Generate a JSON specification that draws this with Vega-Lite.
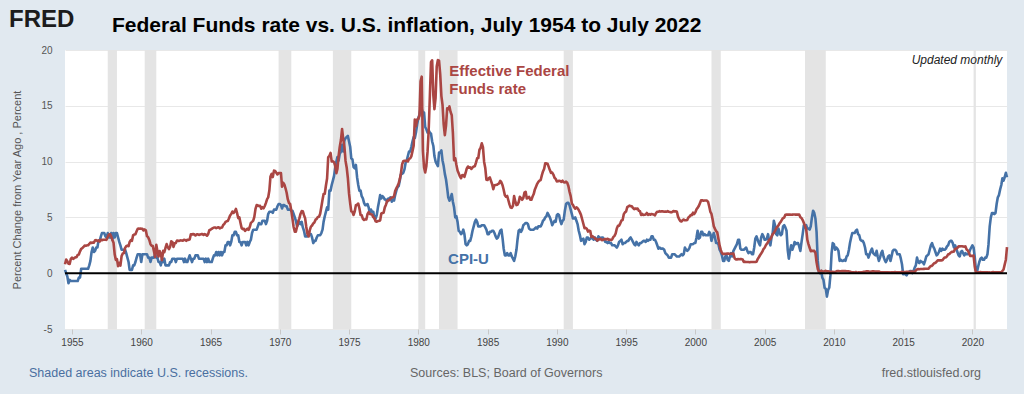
{
"$schema":"https://vega.github.io/schema/vega-lite/v6.json",
"width":942,"height":279,
"autosize":{"type":"none"},
"padding":{"left":65,"top":50,"right":17,"bottom":65},
"background":"#e1e9f0",
"config":{"view":{"fill":"#ffffff","stroke":null},"font":"Liberation Sans"},
"data":{"values":[{}]},
"datasets":{
"rec":[{"s":"1957-08","e":"1958-04"},{"s":"1960-04","e":"1961-02"},{"s":"1969-12","e":"1970-11"},{"s":"1973-11","e":"1975-03"},{"s":"1980-01","e":"1980-07"},{"s":"1981-07","e":"1982-11"},{"s":"1990-07","e":"1991-03"},{"s":"2001-03","e":"2001-11"},{"s":"2007-12","e":"2009-06"},{"s":"2020-02","e":"2020-04"}],
"m":[
{"d":"1954-07","f":0.80,"c":0.3},{"d":"1954-08","f":1.22,"c":0.0},{"d":"1954-09","f":1.07,"c":-0.3},{"d":"1954-10","f":0.85,"c":-0.9},{"d":"1954-11","f":0.83,"c":-0.6},{"d":"1954-12","f":1.28,"c":-0.7},
{"d":"1955-01","f":1.39,"c":-0.7},{"d":"1955-02","f":1.29,"c":-0.7},{"d":"1955-03","f":1.35,"c":-0.7},{"d":"1955-04","f":1.43,"c":-0.7},{"d":"1955-05","f":1.43,"c":-0.7},{"d":"1955-06","f":1.64,"c":-0.7},{"d":"1955-07","f":1.68,"c":-0.4},{"d":"1955-08","f":1.96,"c":-0.4},{"d":"1955-09","f":2.18,"c":0.4},{"d":"1955-10","f":2.24,"c":0.4},{"d":"1955-11","f":2.35,"c":0.4},{"d":"1955-12","f":2.48,"c":0.4},
{"d":"1956-01","f":2.45,"c":0.4},{"d":"1956-02","f":2.50,"c":0.4},{"d":"1956-03","f":2.50,"c":0.4},{"d":"1956-04","f":2.62,"c":0.7},{"d":"1956-05","f":2.75,"c":1.1},{"d":"1956-06","f":2.71,"c":1.9},{"d":"1956-07","f":2.75,"c":2.3},{"d":"1956-08","f":2.73,"c":1.9},{"d":"1956-09","f":2.95,"c":2.0},{"d":"1956-10","f":2.96,"c":2.3},{"d":"1956-11","f":2.88,"c":2.3},{"d":"1956-12","f":2.94,"c":2.9},
{"d":"1957-01","f":2.84,"c":2.9},{"d":"1957-02","f":3.00,"c":3.3},{"d":"1957-03","f":2.96,"c":3.6},{"d":"1957-04","f":3.00,"c":3.6},{"d":"1957-05","f":3.00,"c":3.6},{"d":"1957-06","f":3.00,"c":3.3},{"d":"1957-07","f":2.99,"c":3.2},{"d":"1957-08","f":3.24,"c":3.6},{"d":"1957-09","f":3.47,"c":3.2},{"d":"1957-10","f":3.50,"c":3.2},{"d":"1957-11","f":3.28,"c":3.6},{"d":"1957-12","f":2.98,"c":3.0},
{"d":"1958-01","f":2.72,"c":3.6},{"d":"1958-02","f":1.67,"c":3.2},{"d":"1958-03","f":1.20,"c":3.6},{"d":"1958-04","f":1.26,"c":3.6},{"d":"1958-05","f":0.63,"c":3.2},{"d":"1958-06","f":0.93,"c":2.8},{"d":"1958-07","f":0.68,"c":2.5},{"d":"1958-08","f":1.53,"c":2.1},{"d":"1958-09","f":1.76,"c":2.1},{"d":"1958-10","f":1.80,"c":2.1},{"d":"1958-11","f":2.27,"c":2.1},{"d":"1958-12","f":2.42,"c":1.8},
{"d":"1959-01","f":2.48,"c":1.4},{"d":"1959-02","f":2.43,"c":1.0},{"d":"1959-03","f":2.80,"c":0.3},{"d":"1959-04","f":2.96,"c":0.3},{"d":"1959-05","f":2.90,"c":0.3},{"d":"1959-06","f":3.39,"c":0.7},{"d":"1959-07","f":3.47,"c":0.7},{"d":"1959-08","f":3.50,"c":1.0},{"d":"1959-09","f":3.76,"c":1.4},{"d":"1959-10","f":3.98,"c":1.7},{"d":"1959-11","f":4.00,"c":1.7},{"d":"1959-12","f":3.99,"c":1.7},
{"d":"1960-01","f":3.99,"c":1.0},{"d":"1960-02","f":3.97,"c":1.7},{"d":"1960-03","f":3.84,"c":1.7},{"d":"1960-04","f":3.92,"c":1.7},{"d":"1960-05","f":3.85,"c":1.7},{"d":"1960-06","f":3.32,"c":1.7},{"d":"1960-07","f":3.23,"c":1.4},{"d":"1960-08","f":2.98,"c":1.4},{"d":"1960-09","f":2.60,"c":1.0},{"d":"1960-10","f":2.47,"c":1.4},{"d":"1960-11","f":2.44,"c":1.4},{"d":"1960-12","f":1.98,"c":1.4},
{"d":"1961-01","f":1.45,"c":1.7},{"d":"1961-02","f":2.54,"c":1.4},{"d":"1961-03","f":2.02,"c":1.4},{"d":"1961-04","f":1.49,"c":1.0},{"d":"1961-05","f":1.98,"c":1.0},{"d":"1961-06","f":1.73,"c":0.7},{"d":"1961-07","f":1.17,"c":1.3},{"d":"1961-08","f":2.00,"c":1.0},{"d":"1961-09","f":1.88,"c":1.3},{"d":"1961-10","f":2.26,"c":0.7},{"d":"1961-11","f":2.61,"c":0.7},{"d":"1961-12","f":2.33,"c":0.7},
{"d":"1962-01","f":2.15,"c":0.7},{"d":"1962-02","f":2.37,"c":1.0},{"d":"1962-03","f":2.85,"c":1.0},{"d":"1962-04","f":2.78,"c":1.3},{"d":"1962-05","f":2.36,"c":1.3},{"d":"1962-06","f":2.68,"c":1.3},{"d":"1962-07","f":2.71,"c":1.0},{"d":"1962-08","f":2.93,"c":1.3},{"d":"1962-09","f":2.90,"c":1.3},{"d":"1962-10","f":2.90,"c":1.3},{"d":"1962-11","f":2.94,"c":1.3},{"d":"1962-12","f":2.93,"c":1.3},
{"d":"1963-01","f":2.92,"c":1.3},{"d":"1963-02","f":3.00,"c":1.0},{"d":"1963-03","f":2.98,"c":1.3},{"d":"1963-04","f":2.90,"c":1.0},{"d":"1963-05","f":3.00,"c":1.0},{"d":"1963-06","f":2.99,"c":1.3},{"d":"1963-07","f":3.02,"c":1.6},{"d":"1963-08","f":3.49,"c":1.3},{"d":"1963-09","f":3.48,"c":1.0},{"d":"1963-10","f":3.50,"c":1.3},{"d":"1963-11","f":3.48,"c":1.3},{"d":"1963-12","f":3.38,"c":1.6},
{"d":"1964-01","f":3.48,"c":1.6},{"d":"1964-02","f":3.48,"c":1.6},{"d":"1964-03","f":3.43,"c":1.3},{"d":"1964-04","f":3.47,"c":1.3},{"d":"1964-05","f":3.50,"c":1.3},{"d":"1964-06","f":3.50,"c":1.3},{"d":"1964-07","f":3.42,"c":1.3},{"d":"1964-08","f":3.50,"c":1.0},{"d":"1964-09","f":3.45,"c":1.3},{"d":"1964-10","f":3.36,"c":1.0},{"d":"1964-11","f":3.52,"c":1.3},{"d":"1964-12","f":3.85,"c":1.0},
{"d":"1965-01","f":3.90,"c":1.0},{"d":"1965-02","f":3.98,"c":1.0},{"d":"1965-03","f":4.04,"c":1.3},{"d":"1965-04","f":4.09,"c":1.6},{"d":"1965-05","f":4.10,"c":1.6},{"d":"1965-06","f":4.04,"c":1.9},{"d":"1965-07","f":4.09,"c":1.6},{"d":"1965-08","f":4.12,"c":1.9},{"d":"1965-09","f":4.01,"c":1.6},{"d":"1965-10","f":4.08,"c":1.9},{"d":"1965-11","f":4.10,"c":1.6},{"d":"1965-12","f":4.32,"c":1.9},
{"d":"1966-01","f":4.42,"c":1.9},{"d":"1966-02","f":4.60,"c":2.5},{"d":"1966-03","f":4.65,"c":2.5},{"d":"1966-04","f":4.67,"c":2.8},{"d":"1966-05","f":4.90,"c":2.8},{"d":"1966-06","f":5.17,"c":2.5},{"d":"1966-07","f":5.30,"c":2.8},{"d":"1966-08","f":5.53,"c":3.4},{"d":"1966-09","f":5.40,"c":3.4},{"d":"1966-10","f":5.53,"c":3.7},{"d":"1966-11","f":5.76,"c":3.7},{"d":"1966-12","f":5.40,"c":3.4},
{"d":"1967-01","f":4.94,"c":3.4},{"d":"1967-02","f":5.00,"c":2.8},{"d":"1967-03","f":4.53,"c":2.8},{"d":"1967-04","f":4.05,"c":2.5},{"d":"1967-05","f":3.94,"c":2.8},{"d":"1967-06","f":3.98,"c":2.8},{"d":"1967-07","f":3.79,"c":2.8},{"d":"1967-08","f":3.90,"c":2.5},{"d":"1967-09","f":3.99,"c":2.8},{"d":"1967-10","f":3.88,"c":2.5},{"d":"1967-11","f":4.13,"c":2.8},{"d":"1967-12","f":4.51,"c":3.0},
{"d":"1968-01","f":4.60,"c":3.6},{"d":"1968-02","f":4.71,"c":3.9},{"d":"1968-03","f":5.05,"c":3.9},{"d":"1968-04","f":5.76,"c":3.9},{"d":"1968-05","f":6.11,"c":3.9},{"d":"1968-06","f":6.07,"c":4.2},{"d":"1968-07","f":6.02,"c":4.5},{"d":"1968-08","f":6.03,"c":4.4},{"d":"1968-09","f":5.78,"c":4.4},{"d":"1968-10","f":5.91,"c":4.7},{"d":"1968-11","f":5.82,"c":4.7},{"d":"1968-12","f":6.02,"c":4.7},
{"d":"1969-01","f":6.30,"c":4.4},{"d":"1969-02","f":6.64,"c":4.7},{"d":"1969-03","f":6.79,"c":5.3},{"d":"1969-04","f":7.41,"c":5.5},{"d":"1969-05","f":8.67,"c":5.5},{"d":"1969-06","f":8.90,"c":5.5},{"d":"1969-07","f":8.61,"c":5.4},{"d":"1969-08","f":9.19,"c":5.7},{"d":"1969-09","f":9.15,"c":5.7},{"d":"1969-10","f":9.00,"c":5.7},{"d":"1969-11","f":8.85,"c":6.0},{"d":"1969-12","f":8.97,"c":6.2},
{"d":"1970-01","f":8.98,"c":6.2},{"d":"1970-02","f":8.98,"c":6.1},{"d":"1970-03","f":7.76,"c":5.8},{"d":"1970-04","f":8.10,"c":6.1},{"d":"1970-05","f":7.95,"c":6.1},{"d":"1970-06","f":7.61,"c":6.0},{"d":"1970-07","f":7.21,"c":6.0},{"d":"1970-08","f":6.61,"c":5.7},{"d":"1970-09","f":6.29,"c":5.7},{"d":"1970-10","f":6.20,"c":5.7},{"d":"1970-11","f":5.60,"c":5.6},{"d":"1970-12","f":4.90,"c":5.6},
{"d":"1971-01","f":4.14,"c":5.3},{"d":"1971-02","f":3.72,"c":5.0},{"d":"1971-03","f":3.71,"c":4.7},{"d":"1971-04","f":4.16,"c":4.2},{"d":"1971-05","f":4.63,"c":4.4},{"d":"1971-06","f":4.91,"c":4.6},{"d":"1971-07","f":5.31,"c":4.4},{"d":"1971-08","f":5.56,"c":4.6},{"d":"1971-09","f":5.55,"c":4.1},{"d":"1971-10","f":5.20,"c":3.8},{"d":"1971-11","f":4.91,"c":3.3},{"d":"1971-12","f":4.14,"c":3.3},
{"d":"1972-01","f":3.50,"c":3.3},{"d":"1972-02","f":3.29,"c":3.5},{"d":"1972-03","f":3.83,"c":3.5},{"d":"1972-04","f":4.17,"c":3.5},{"d":"1972-05","f":4.27,"c":3.2},{"d":"1972-06","f":4.46,"c":2.7},{"d":"1972-07","f":4.55,"c":2.9},{"d":"1972-08","f":4.80,"c":2.9},{"d":"1972-09","f":4.87,"c":3.2},{"d":"1972-10","f":5.04,"c":3.4},{"d":"1972-11","f":5.06,"c":3.4},{"d":"1972-12","f":5.33,"c":3.4},
{"d":"1973-01","f":5.94,"c":3.6},{"d":"1973-02","f":6.58,"c":3.9},{"d":"1973-03","f":7.09,"c":4.6},{"d":"1973-04","f":7.12,"c":5.1},{"d":"1973-05","f":7.84,"c":5.5},{"d":"1973-06","f":8.49,"c":5.9},{"d":"1973-07","f":10.40,"c":5.7},{"d":"1973-08","f":10.50,"c":7.4},{"d":"1973-09","f":10.78,"c":7.4},{"d":"1973-10","f":10.01,"c":7.9},{"d":"1973-11","f":10.03,"c":8.3},{"d":"1973-12","f":9.95,"c":8.7},
{"d":"1974-01","f":9.65,"c":9.4},{"d":"1974-02","f":8.97,"c":10.0},{"d":"1974-03","f":9.35,"c":10.4},{"d":"1974-04","f":10.51,"c":10.1},{"d":"1974-05","f":11.31,"c":10.7},{"d":"1974-06","f":11.93,"c":10.9},{"d":"1974-07","f":12.92,"c":11.5},{"d":"1974-08","f":12.01,"c":10.9},{"d":"1974-09","f":11.34,"c":11.9},{"d":"1974-10","f":10.06,"c":12.1},{"d":"1974-11","f":9.45,"c":12.2},{"d":"1974-12","f":8.53,"c":12.3},
{"d":"1975-01","f":7.13,"c":11.8},{"d":"1975-02","f":6.24,"c":11.3},{"d":"1975-03","f":5.54,"c":10.3},{"d":"1975-04","f":5.49,"c":10.2},{"d":"1975-05","f":5.22,"c":9.5},{"d":"1975-06","f":5.55,"c":9.4},{"d":"1975-07","f":6.10,"c":9.7},{"d":"1975-08","f":6.14,"c":8.6},{"d":"1975-09","f":6.24,"c":7.9},{"d":"1975-10","f":5.82,"c":7.4},{"d":"1975-11","f":5.22,"c":7.4},{"d":"1975-12","f":5.20,"c":6.9},
{"d":"1976-01","f":4.87,"c":6.7},{"d":"1976-02","f":4.77,"c":6.3},{"d":"1976-03","f":4.84,"c":6.1},{"d":"1976-04","f":4.82,"c":6.1},{"d":"1976-05","f":5.29,"c":6.2},{"d":"1976-06","f":5.48,"c":5.9},{"d":"1976-07","f":5.31,"c":5.4},{"d":"1976-08","f":5.29,"c":5.7},{"d":"1976-09","f":5.25,"c":5.5},{"d":"1976-10","f":5.02,"c":5.5},{"d":"1976-11","f":4.95,"c":4.9},{"d":"1976-12","f":4.65,"c":4.9},
{"d":"1977-01","f":4.61,"c":5.2},{"d":"1977-02","f":4.68,"c":5.9},{"d":"1977-03","f":4.69,"c":6.4},{"d":"1977-04","f":4.73,"c":7.0},{"d":"1977-05","f":5.35,"c":6.7},{"d":"1977-06","f":5.39,"c":6.9},{"d":"1977-07","f":5.42,"c":6.8},{"d":"1977-08","f":5.90,"c":6.6},{"d":"1977-09","f":6.14,"c":6.6},{"d":"1977-10","f":6.47,"c":6.4},{"d":"1977-11","f":6.51,"c":6.7},{"d":"1977-12","f":6.56,"c":6.7},
{"d":"1978-01","f":6.70,"c":6.8},{"d":"1978-02","f":6.78,"c":6.4},{"d":"1978-03","f":6.79,"c":6.6},{"d":"1978-04","f":6.89,"c":6.5},{"d":"1978-05","f":7.36,"c":7.0},{"d":"1978-06","f":7.60,"c":7.4},{"d":"1978-07","f":7.81,"c":7.7},{"d":"1978-08","f":8.04,"c":7.8},{"d":"1978-09","f":8.45,"c":8.3},{"d":"1978-10","f":8.96,"c":8.9},{"d":"1978-11","f":9.76,"c":8.9},{"d":"1978-12","f":10.03,"c":9.0},
{"d":"1979-01","f":10.07,"c":9.3},{"d":"1979-02","f":10.06,"c":9.9},{"d":"1979-03","f":10.09,"c":10.1},{"d":"1979-04","f":10.01,"c":10.5},{"d":"1979-05","f":10.24,"c":10.9},{"d":"1979-06","f":10.29,"c":10.9},{"d":"1979-07","f":10.47,"c":11.3},{"d":"1979-08","f":10.94,"c":11.8},{"d":"1979-09","f":11.43,"c":12.2},{"d":"1979-10","f":13.77,"c":12.1},{"d":"1979-11","f":13.18,"c":12.6},{"d":"1979-12","f":13.78,"c":13.3},
{"d":"1980-01","f":13.82,"c":13.9},{"d":"1980-02","f":14.13,"c":14.2},{"d":"1980-03","f":17.19,"c":14.8},{"d":"1980-04","f":17.61,"c":14.7},{"d":"1980-05","f":10.98,"c":14.4},{"d":"1980-06","f":9.47,"c":14.4},{"d":"1980-07","f":9.03,"c":13.1},{"d":"1980-08","f":9.61,"c":12.9},{"d":"1980-09","f":10.87,"c":12.6},{"d":"1980-10","f":12.81,"c":12.8},{"d":"1980-11","f":15.85,"c":12.6},{"d":"1980-12","f":18.90,"c":12.5},
{"d":"1981-01","f":19.08,"c":11.8},{"d":"1981-02","f":15.93,"c":11.4},{"d":"1981-03","f":14.70,"c":10.5},{"d":"1981-04","f":15.72,"c":10.0},{"d":"1981-05","f":18.52,"c":9.8},{"d":"1981-06","f":19.10,"c":9.6},{"d":"1981-07","f":19.04,"c":10.8},{"d":"1981-08","f":17.82,"c":10.8},{"d":"1981-09","f":15.87,"c":11.0},{"d":"1981-10","f":15.08,"c":10.1},{"d":"1981-11","f":13.31,"c":9.6},{"d":"1981-12","f":12.37,"c":8.9},
{"d":"1982-01","f":13.22,"c":8.4},{"d":"1982-02","f":14.78,"c":7.6},{"d":"1982-03","f":14.68,"c":6.8},{"d":"1982-04","f":14.94,"c":6.5},{"d":"1982-05","f":14.45,"c":6.7},{"d":"1982-06","f":14.15,"c":7.1},{"d":"1982-07","f":12.59,"c":6.4},{"d":"1982-08","f":10.12,"c":5.9},{"d":"1982-09","f":10.31,"c":5.0},{"d":"1982-10","f":9.71,"c":5.1},{"d":"1982-11","f":9.20,"c":4.6},{"d":"1982-12","f":8.95,"c":3.8},
{"d":"1983-01","f":8.68,"c":3.7},{"d":"1983-02","f":8.51,"c":3.5},{"d":"1983-03","f":8.77,"c":3.6},{"d":"1983-04","f":8.80,"c":3.9},{"d":"1983-05","f":8.63,"c":3.5},{"d":"1983-06","f":8.98,"c":2.6},{"d":"1983-07","f":9.37,"c":2.5},{"d":"1983-08","f":9.56,"c":2.6},{"d":"1983-09","f":9.45,"c":2.9},{"d":"1983-10","f":9.48,"c":2.9},{"d":"1983-11","f":9.34,"c":3.3},{"d":"1983-12","f":9.47,"c":3.8},
{"d":"1984-01","f":9.56,"c":4.2},{"d":"1984-02","f":9.59,"c":4.6},{"d":"1984-03","f":9.91,"c":4.8},{"d":"1984-04","f":10.29,"c":4.6},{"d":"1984-05","f":10.32,"c":4.2},{"d":"1984-06","f":11.06,"c":4.2},{"d":"1984-07","f":11.23,"c":4.2},{"d":"1984-08","f":11.64,"c":4.3},{"d":"1984-09","f":11.30,"c":4.3},{"d":"1984-10","f":9.99,"c":4.3},{"d":"1984-11","f":9.43,"c":4.1},{"d":"1984-12","f":8.38,"c":3.9},
{"d":"1985-01","f":8.35,"c":3.5},{"d":"1985-02","f":8.50,"c":3.5},{"d":"1985-03","f":8.58,"c":3.7},{"d":"1985-04","f":8.27,"c":3.7},{"d":"1985-05","f":7.97,"c":3.8},{"d":"1985-06","f":7.53,"c":3.8},{"d":"1985-07","f":7.88,"c":3.6},{"d":"1985-08","f":7.90,"c":3.3},{"d":"1985-09","f":7.92,"c":3.1},{"d":"1985-10","f":7.99,"c":3.2},{"d":"1985-11","f":8.05,"c":3.5},{"d":"1985-12","f":8.27,"c":3.8},
{"d":"1986-01","f":8.14,"c":3.9},{"d":"1986-02","f":7.86,"c":3.1},{"d":"1986-03","f":7.48,"c":2.2},{"d":"1986-04","f":6.99,"c":1.6},{"d":"1986-05","f":6.85,"c":1.6},{"d":"1986-06","f":6.92,"c":1.8},{"d":"1986-07","f":6.56,"c":1.6},{"d":"1986-08","f":6.17,"c":1.6},{"d":"1986-09","f":5.89,"c":1.8},{"d":"1986-10","f":5.85,"c":1.5},{"d":"1986-11","f":6.04,"c":1.3},{"d":"1986-12","f":6.91,"c":1.1},
{"d":"1987-01","f":6.43,"c":1.5},{"d":"1987-02","f":6.10,"c":2.1},{"d":"1987-03","f":6.13,"c":3.0},{"d":"1987-04","f":6.37,"c":3.8},{"d":"1987-05","f":6.85,"c":3.9},{"d":"1987-06","f":6.73,"c":3.7},{"d":"1987-07","f":6.58,"c":3.9},{"d":"1987-08","f":6.73,"c":4.3},{"d":"1987-09","f":7.22,"c":4.4},{"d":"1987-10","f":7.29,"c":4.5},{"d":"1987-11","f":6.69,"c":4.5},{"d":"1987-12","f":6.77,"c":4.4},
{"d":"1988-01","f":6.83,"c":4.0},{"d":"1988-02","f":6.58,"c":3.9},{"d":"1988-03","f":6.58,"c":3.9},{"d":"1988-04","f":6.87,"c":3.9},{"d":"1988-05","f":7.09,"c":3.9},{"d":"1988-06","f":7.51,"c":4.0},{"d":"1988-07","f":7.75,"c":4.1},{"d":"1988-08","f":8.01,"c":4.0},{"d":"1988-09","f":8.19,"c":4.2},{"d":"1988-10","f":8.30,"c":4.2},{"d":"1988-11","f":8.35,"c":4.2},{"d":"1988-12","f":8.76,"c":4.4},
{"d":"1989-01","f":9.12,"c":4.7},{"d":"1989-02","f":9.36,"c":4.8},{"d":"1989-03","f":9.85,"c":5.0},{"d":"1989-04","f":9.84,"c":5.1},{"d":"1989-05","f":9.81,"c":5.4},{"d":"1989-06","f":9.53,"c":5.2},{"d":"1989-07","f":9.24,"c":5.0},{"d":"1989-08","f":8.99,"c":4.7},{"d":"1989-09","f":9.02,"c":4.3},{"d":"1989-10","f":8.84,"c":4.5},{"d":"1989-11","f":8.55,"c":4.7},{"d":"1989-12","f":8.45,"c":4.6},
{"d":"1990-01","f":8.23,"c":5.2},{"d":"1990-02","f":8.24,"c":5.3},{"d":"1990-03","f":8.28,"c":5.2},{"d":"1990-04","f":8.26,"c":4.7},{"d":"1990-05","f":8.18,"c":4.4},{"d":"1990-06","f":8.29,"c":4.7},{"d":"1990-07","f":8.15,"c":4.8},{"d":"1990-08","f":8.13,"c":5.6},{"d":"1990-09","f":8.20,"c":6.2},{"d":"1990-10","f":8.11,"c":6.3},{"d":"1990-11","f":7.81,"c":6.3},{"d":"1990-12","f":7.31,"c":6.1},
{"d":"1991-01","f":6.91,"c":5.7},{"d":"1991-02","f":6.25,"c":5.3},{"d":"1991-03","f":6.12,"c":4.9},{"d":"1991-04","f":5.91,"c":4.9},{"d":"1991-05","f":5.78,"c":5.0},{"d":"1991-06","f":5.90,"c":4.7},{"d":"1991-07","f":5.82,"c":4.4},{"d":"1991-08","f":5.66,"c":3.8},{"d":"1991-09","f":5.45,"c":3.4},{"d":"1991-10","f":5.21,"c":2.9},{"d":"1991-11","f":4.81,"c":3.0},{"d":"1991-12","f":4.43,"c":3.1},
{"d":"1992-01","f":4.03,"c":2.6},{"d":"1992-02","f":4.06,"c":2.8},{"d":"1992-03","f":3.98,"c":3.2},{"d":"1992-04","f":3.73,"c":3.2},{"d":"1992-05","f":3.82,"c":3.0},{"d":"1992-06","f":3.76,"c":3.1},{"d":"1992-07","f":3.25,"c":3.2},{"d":"1992-08","f":3.30,"c":3.1},{"d":"1992-09","f":3.22,"c":3.0},{"d":"1992-10","f":3.10,"c":3.2},{"d":"1992-11","f":3.09,"c":3.0},{"d":"1992-12","f":2.92,"c":2.9},
{"d":"1993-01","f":3.02,"c":3.3},{"d":"1993-02","f":3.03,"c":3.2},{"d":"1993-03","f":3.07,"c":3.1},{"d":"1993-04","f":2.96,"c":3.2},{"d":"1993-05","f":3.00,"c":3.2},{"d":"1993-06","f":3.04,"c":3.0},{"d":"1993-07","f":3.06,"c":2.8},{"d":"1993-08","f":3.03,"c":2.8},{"d":"1993-09","f":3.09,"c":2.7},{"d":"1993-10","f":2.99,"c":2.8},{"d":"1993-11","f":3.02,"c":2.7},{"d":"1993-12","f":2.96,"c":2.7},
{"d":"1994-01","f":3.05,"c":2.5},{"d":"1994-02","f":3.25,"c":2.5},{"d":"1994-03","f":3.34,"c":2.5},{"d":"1994-04","f":3.56,"c":2.4},{"d":"1994-05","f":4.01,"c":2.3},{"d":"1994-06","f":4.25,"c":2.5},{"d":"1994-07","f":4.26,"c":2.8},{"d":"1994-08","f":4.47,"c":2.9},{"d":"1994-09","f":4.73,"c":3.0},{"d":"1994-10","f":4.76,"c":2.6},{"d":"1994-11","f":5.29,"c":2.7},{"d":"1994-12","f":5.45,"c":2.7},
{"d":"1995-01","f":5.53,"c":2.8},{"d":"1995-02","f":5.92,"c":2.9},{"d":"1995-03","f":5.98,"c":2.9},{"d":"1995-04","f":6.05,"c":3.1},{"d":"1995-05","f":6.01,"c":3.2},{"d":"1995-06","f":6.00,"c":3.0},{"d":"1995-07","f":5.85,"c":2.8},{"d":"1995-08","f":5.74,"c":2.6},{"d":"1995-09","f":5.80,"c":2.5},{"d":"1995-10","f":5.76,"c":2.8},{"d":"1995-11","f":5.80,"c":2.6},{"d":"1995-12","f":5.60,"c":2.5},
{"d":"1996-01","f":5.56,"c":2.7},{"d":"1996-02","f":5.22,"c":2.7},{"d":"1996-03","f":5.31,"c":2.8},{"d":"1996-04","f":5.22,"c":2.9},{"d":"1996-05","f":5.24,"c":2.9},{"d":"1996-06","f":5.27,"c":2.8},{"d":"1996-07","f":5.40,"c":3.0},{"d":"1996-08","f":5.22,"c":2.9},{"d":"1996-09","f":5.30,"c":3.0},{"d":"1996-10","f":5.24,"c":3.0},{"d":"1996-11","f":5.31,"c":3.3},{"d":"1996-12","f":5.29,"c":3.3},
{"d":"1997-01","f":5.25,"c":3.0},{"d":"1997-02","f":5.19,"c":3.0},{"d":"1997-03","f":5.39,"c":2.8},{"d":"1997-04","f":5.51,"c":2.5},{"d":"1997-05","f":5.50,"c":2.2},{"d":"1997-06","f":5.56,"c":2.3},{"d":"1997-07","f":5.52,"c":2.2},{"d":"1997-08","f":5.54,"c":2.2},{"d":"1997-09","f":5.54,"c":2.2},{"d":"1997-10","f":5.50,"c":2.1},{"d":"1997-11","f":5.52,"c":1.8},{"d":"1997-12","f":5.50,"c":1.7},
{"d":"1998-01","f":5.56,"c":1.6},{"d":"1998-02","f":5.51,"c":1.4},{"d":"1998-03","f":5.49,"c":1.4},{"d":"1998-04","f":5.45,"c":1.4},{"d":"1998-05","f":5.49,"c":1.7},{"d":"1998-06","f":5.56,"c":1.7},{"d":"1998-07","f":5.54,"c":1.7},{"d":"1998-08","f":5.55,"c":1.6},{"d":"1998-09","f":5.51,"c":1.5},{"d":"1998-10","f":5.07,"c":1.5},{"d":"1998-11","f":4.83,"c":1.5},{"d":"1998-12","f":4.68,"c":1.6},
{"d":"1999-01","f":4.63,"c":1.7},{"d":"1999-02","f":4.76,"c":1.6},{"d":"1999-03","f":4.81,"c":1.7},{"d":"1999-04","f":4.74,"c":2.3},{"d":"1999-05","f":4.74,"c":2.1},{"d":"1999-06","f":4.76,"c":2.0},{"d":"1999-07","f":4.99,"c":2.1},{"d":"1999-08","f":5.07,"c":2.3},{"d":"1999-09","f":5.22,"c":2.6},{"d":"1999-10","f":5.20,"c":2.6},{"d":"1999-11","f":5.42,"c":2.6},{"d":"1999-12","f":5.30,"c":2.7},
{"d":"2000-01","f":5.45,"c":2.7},{"d":"2000-02","f":5.73,"c":3.2},{"d":"2000-03","f":5.85,"c":3.8},{"d":"2000-04","f":6.02,"c":3.1},{"d":"2000-05","f":6.27,"c":3.2},{"d":"2000-06","f":6.53,"c":3.7},{"d":"2000-07","f":6.54,"c":3.7},{"d":"2000-08","f":6.50,"c":3.4},{"d":"2000-09","f":6.52,"c":3.5},{"d":"2000-10","f":6.51,"c":3.4},{"d":"2000-11","f":6.51,"c":3.4},{"d":"2000-12","f":6.40,"c":3.4},
{"d":"2001-01","f":5.98,"c":3.7},{"d":"2001-02","f":5.49,"c":3.5},{"d":"2001-03","f":5.31,"c":2.9},{"d":"2001-04","f":4.80,"c":3.3},{"d":"2001-05","f":4.21,"c":3.6},{"d":"2001-06","f":3.97,"c":3.2},{"d":"2001-07","f":3.77,"c":2.7},{"d":"2001-08","f":3.65,"c":2.7},{"d":"2001-09","f":3.07,"c":2.6},{"d":"2001-10","f":2.49,"c":2.1},{"d":"2001-11","f":2.09,"c":1.9},{"d":"2001-12","f":1.82,"c":1.6},
{"d":"2002-01","f":1.73,"c":1.1},{"d":"2002-02","f":1.74,"c":1.1},{"d":"2002-03","f":1.73,"c":1.5},{"d":"2002-04","f":1.75,"c":1.6},{"d":"2002-05","f":1.75,"c":1.2},{"d":"2002-06","f":1.75,"c":1.1},{"d":"2002-07","f":1.73,"c":1.5},{"d":"2002-08","f":1.74,"c":1.8},{"d":"2002-09","f":1.75,"c":1.5},{"d":"2002-10","f":1.75,"c":2.0},{"d":"2002-11","f":1.34,"c":2.2},{"d":"2002-12","f":1.24,"c":2.4},
{"d":"2003-01","f":1.24,"c":2.6},{"d":"2003-02","f":1.26,"c":3.0},{"d":"2003-03","f":1.25,"c":3.0},{"d":"2003-04","f":1.26,"c":2.2},{"d":"2003-05","f":1.26,"c":2.1},{"d":"2003-06","f":1.22,"c":2.1},{"d":"2003-07","f":1.01,"c":2.1},{"d":"2003-08","f":1.03,"c":2.2},{"d":"2003-09","f":1.01,"c":2.3},{"d":"2003-10","f":1.01,"c":2.0},{"d":"2003-11","f":1.00,"c":1.8},{"d":"2003-12","f":0.98,"c":1.9},
{"d":"2004-01","f":1.00,"c":1.9},{"d":"2004-02","f":1.01,"c":1.7},{"d":"2004-03","f":1.00,"c":1.7},{"d":"2004-04","f":1.00,"c":2.3},{"d":"2004-05","f":1.00,"c":3.1},{"d":"2004-06","f":1.03,"c":3.3},{"d":"2004-07","f":1.26,"c":3.0},{"d":"2004-08","f":1.43,"c":2.7},{"d":"2004-09","f":1.61,"c":2.5},{"d":"2004-10","f":1.76,"c":3.2},{"d":"2004-11","f":1.93,"c":3.5},{"d":"2004-12","f":2.16,"c":3.3},
{"d":"2005-01","f":2.28,"c":3.0},{"d":"2005-02","f":2.50,"c":3.0},{"d":"2005-03","f":2.63,"c":3.1},{"d":"2005-04","f":2.79,"c":3.5},{"d":"2005-05","f":3.00,"c":2.8},{"d":"2005-06","f":3.04,"c":2.5},{"d":"2005-07","f":3.26,"c":3.2},{"d":"2005-08","f":3.50,"c":3.6},{"d":"2005-09","f":3.62,"c":4.7},{"d":"2005-10","f":3.78,"c":4.3},{"d":"2005-11","f":4.00,"c":3.5},{"d":"2005-12","f":4.16,"c":3.4},
{"d":"2006-01","f":4.29,"c":4.0},{"d":"2006-02","f":4.49,"c":3.6},{"d":"2006-03","f":4.59,"c":3.4},{"d":"2006-04","f":4.79,"c":3.5},{"d":"2006-05","f":4.94,"c":4.2},{"d":"2006-06","f":4.99,"c":4.3},{"d":"2006-07","f":5.24,"c":4.1},{"d":"2006-08","f":5.25,"c":3.8},{"d":"2006-09","f":5.25,"c":2.1},{"d":"2006-10","f":5.25,"c":1.3},{"d":"2006-11","f":5.25,"c":2.0},{"d":"2006-12","f":5.24,"c":2.5},
{"d":"2007-01","f":5.25,"c":2.1},{"d":"2007-02","f":5.26,"c":2.4},{"d":"2007-03","f":5.26,"c":2.8},{"d":"2007-04","f":5.25,"c":2.6},{"d":"2007-05","f":5.25,"c":2.7},{"d":"2007-06","f":5.25,"c":2.7},{"d":"2007-07","f":5.26,"c":2.4},{"d":"2007-08","f":5.02,"c":2.0},{"d":"2007-09","f":4.94,"c":2.8},{"d":"2007-10","f":4.76,"c":3.5},{"d":"2007-11","f":4.49,"c":4.3},{"d":"2007-12","f":4.24,"c":4.1},
{"d":"2008-01","f":3.94,"c":4.3},{"d":"2008-02","f":2.98,"c":4.0},{"d":"2008-03","f":2.61,"c":4.0},{"d":"2008-04","f":2.28,"c":3.9},{"d":"2008-05","f":1.98,"c":4.2},{"d":"2008-06","f":2.00,"c":5.0},{"d":"2008-07","f":2.01,"c":5.6},{"d":"2008-08","f":2.00,"c":5.4},{"d":"2008-09","f":1.81,"c":4.9},{"d":"2008-10","f":0.97,"c":3.7},{"d":"2008-11","f":0.39,"c":1.1},{"d":"2008-12","f":0.16,"c":0.1},
{"d":"2009-01","f":0.15,"c":0.0},{"d":"2009-02","f":0.22,"c":0.2},{"d":"2009-03","f":0.18,"c":-0.4},{"d":"2009-04","f":0.15,"c":-0.6},{"d":"2009-05","f":0.18,"c":-1.3},{"d":"2009-06","f":0.21,"c":-1.4},{"d":"2009-07","f":0.16,"c":-2.1},{"d":"2009-08","f":0.16,"c":-1.5},{"d":"2009-09","f":0.15,"c":-1.3},{"d":"2009-10","f":0.12,"c":-0.2},{"d":"2009-11","f":0.12,"c":1.8},{"d":"2009-12","f":0.12,"c":2.7},
{"d":"2010-01","f":0.11,"c":2.6},{"d":"2010-02","f":0.13,"c":2.1},{"d":"2010-03","f":0.16,"c":2.3},{"d":"2010-04","f":0.20,"c":2.2},{"d":"2010-05","f":0.20,"c":2.0},{"d":"2010-06","f":0.18,"c":1.1},{"d":"2010-07","f":0.18,"c":1.2},{"d":"2010-08","f":0.19,"c":1.1},{"d":"2010-09","f":0.19,"c":1.1},{"d":"2010-10","f":0.19,"c":1.2},{"d":"2010-11","f":0.19,"c":1.1},{"d":"2010-12","f":0.18,"c":1.5},
{"d":"2011-01","f":0.17,"c":1.6},{"d":"2011-02","f":0.16,"c":2.1},{"d":"2011-03","f":0.14,"c":2.7},{"d":"2011-04","f":0.10,"c":3.2},{"d":"2011-05","f":0.09,"c":3.6},{"d":"2011-06","f":0.09,"c":3.6},{"d":"2011-07","f":0.07,"c":3.6},{"d":"2011-08","f":0.10,"c":3.8},{"d":"2011-09","f":0.08,"c":3.9},{"d":"2011-10","f":0.07,"c":3.5},{"d":"2011-11","f":0.08,"c":3.4},{"d":"2011-12","f":0.07,"c":3.0},
{"d":"2012-01","f":0.08,"c":2.9},{"d":"2012-02","f":0.10,"c":2.9},{"d":"2012-03","f":0.13,"c":2.7},{"d":"2012-04","f":0.14,"c":2.3},{"d":"2012-05","f":0.16,"c":1.7},{"d":"2012-06","f":0.16,"c":1.7},{"d":"2012-07","f":0.16,"c":1.4},{"d":"2012-08","f":0.13,"c":1.7},{"d":"2012-09","f":0.14,"c":2.0},{"d":"2012-10","f":0.16,"c":2.2},{"d":"2012-11","f":0.16,"c":1.8},{"d":"2012-12","f":0.16,"c":1.7},
{"d":"2013-01","f":0.14,"c":1.6},{"d":"2013-02","f":0.15,"c":2.0},{"d":"2013-03","f":0.14,"c":1.5},{"d":"2013-04","f":0.15,"c":1.1},{"d":"2013-05","f":0.11,"c":1.4},{"d":"2013-06","f":0.09,"c":1.8},{"d":"2013-07","f":0.09,"c":2.0},{"d":"2013-08","f":0.08,"c":1.5},{"d":"2013-09","f":0.08,"c":1.2},{"d":"2013-10","f":0.09,"c":1.0},{"d":"2013-11","f":0.08,"c":1.2},{"d":"2013-12","f":0.09,"c":1.5},
{"d":"2014-01","f":0.07,"c":1.6},{"d":"2014-02","f":0.07,"c":1.1},{"d":"2014-03","f":0.08,"c":1.5},{"d":"2014-04","f":0.09,"c":2.0},{"d":"2014-05","f":0.09,"c":2.1},{"d":"2014-06","f":0.10,"c":2.1},{"d":"2014-07","f":0.09,"c":2.0},{"d":"2014-08","f":0.09,"c":1.7},{"d":"2014-09","f":0.09,"c":1.7},{"d":"2014-10","f":0.09,"c":1.7},{"d":"2014-11","f":0.09,"c":1.3},{"d":"2014-12","f":0.12,"c":0.8},
{"d":"2015-01","f":0.11,"c":-0.1},{"d":"2015-02","f":0.11,"c":0.0},{"d":"2015-03","f":0.11,"c":-0.1},{"d":"2015-04","f":0.12,"c":-0.2},{"d":"2015-05","f":0.12,"c":0.0},{"d":"2015-06","f":0.13,"c":0.1},{"d":"2015-07","f":0.13,"c":0.2},{"d":"2015-08","f":0.14,"c":0.2},{"d":"2015-09","f":0.14,"c":0.0},{"d":"2015-10","f":0.12,"c":0.2},{"d":"2015-11","f":0.12,"c":0.5},{"d":"2015-12","f":0.24,"c":0.7},
{"d":"2016-01","f":0.34,"c":1.4},{"d":"2016-02","f":0.38,"c":1.0},{"d":"2016-03","f":0.36,"c":0.9},{"d":"2016-04","f":0.37,"c":1.1},{"d":"2016-05","f":0.37,"c":1.0},{"d":"2016-06","f":0.38,"c":1.0},{"d":"2016-07","f":0.39,"c":0.8},{"d":"2016-08","f":0.40,"c":1.1},{"d":"2016-09","f":0.40,"c":1.5},{"d":"2016-10","f":0.40,"c":1.6},{"d":"2016-11","f":0.41,"c":1.7},{"d":"2016-12","f":0.54,"c":2.1},
{"d":"2017-01","f":0.65,"c":2.5},{"d":"2017-02","f":0.66,"c":2.7},{"d":"2017-03","f":0.79,"c":2.4},{"d":"2017-04","f":0.90,"c":2.2},{"d":"2017-05","f":0.91,"c":1.9},{"d":"2017-06","f":1.04,"c":1.6},{"d":"2017-07","f":1.15,"c":1.7},{"d":"2017-08","f":1.16,"c":1.9},{"d":"2017-09","f":1.15,"c":2.2},{"d":"2017-10","f":1.15,"c":2.0},{"d":"2017-11","f":1.16,"c":2.2},{"d":"2017-12","f":1.30,"c":2.1},
{"d":"2018-01","f":1.41,"c":2.1},{"d":"2018-02","f":1.42,"c":2.2},{"d":"2018-03","f":1.51,"c":2.4},{"d":"2018-04","f":1.69,"c":2.5},{"d":"2018-05","f":1.70,"c":2.8},{"d":"2018-06","f":1.82,"c":2.9},{"d":"2018-07","f":1.91,"c":2.9},{"d":"2018-08","f":1.91,"c":2.7},{"d":"2018-09","f":1.95,"c":2.3},{"d":"2018-10","f":2.19,"c":2.5},{"d":"2018-11","f":2.20,"c":2.2},{"d":"2018-12","f":2.27,"c":1.9},
{"d":"2019-01","f":2.40,"c":1.6},{"d":"2019-02","f":2.40,"c":1.5},{"d":"2019-03","f":2.41,"c":1.9},{"d":"2019-04","f":2.42,"c":2.0},{"d":"2019-05","f":2.39,"c":1.8},{"d":"2019-06","f":2.38,"c":1.6},{"d":"2019-07","f":2.40,"c":1.8},{"d":"2019-08","f":2.13,"c":1.7},{"d":"2019-09","f":2.04,"c":1.7},{"d":"2019-10","f":1.83,"c":1.8},{"d":"2019-11","f":1.55,"c":2.1},{"d":"2019-12","f":1.55,"c":2.3},
{"d":"2020-01","f":1.55,"c":2.5},{"d":"2020-02","f":1.58,"c":2.3},{"d":"2020-03","f":0.65,"c":1.5},{"d":"2020-04","f":0.05,"c":0.3},{"d":"2020-05","f":0.05,"c":0.1},{"d":"2020-06","f":0.08,"c":0.6},{"d":"2020-07","f":0.09,"c":1.0},{"d":"2020-08","f":0.10,"c":1.3},{"d":"2020-09","f":0.09,"c":1.4},{"d":"2020-10","f":0.09,"c":1.2},{"d":"2020-11","f":0.09,"c":1.2},{"d":"2020-12","f":0.09,"c":1.4},
{"d":"2021-01","f":0.09,"c":1.4},{"d":"2021-02","f":0.08,"c":1.7},{"d":"2021-03","f":0.07,"c":2.6},{"d":"2021-04","f":0.07,"c":4.2},{"d":"2021-05","f":0.06,"c":5.0},{"d":"2021-06","f":0.08,"c":5.4},{"d":"2021-07","f":0.10,"c":5.4},{"d":"2021-08","f":0.09,"c":5.3},{"d":"2021-09","f":0.08,"c":5.4},{"d":"2021-10","f":0.08,"c":6.2},{"d":"2021-11","f":0.08,"c":6.8},{"d":"2021-12","f":0.08,"c":7.0},
{"d":"2022-01","f":0.08,"c":7.5},{"d":"2022-02","f":0.08,"c":7.9},{"d":"2022-03","f":0.20,"c":8.5},{"d":"2022-04","f":0.33,"c":8.3},{"d":"2022-05","f":0.77,"c":8.6},{"d":"2022-06","f":1.21,"c":9.0},{"d":"2022-07","f":2.33,"c":8.6}
]},
"layer":[
{"data":{"name":"rec"},"mark":{"type":"rect","color":"#e4e4e4"},
 "encoding":{
  "x":{"field":"s","type":"temporal","scale":{"type":"utc","domain":[{"year":1954,"month":7,"date":1,"utc":true},{"year":2022,"month":7,"date":1,"utc":true}]},
   "axis":{"title":null,"format":"%Y","tickCount":{"interval":"year","step":5},"domain":false,"grid":false,"ticks":true,"tickSize":5,"tickColor":"#c8c8c8","labelPadding":3,"labelFontSize":10,"labelColor":"#444444","labelFlush":false}},
  "x2":{"field":"e"}}},
{"data":{"name":"m"},"mark":{"type":"line","color":"#4572a7","strokeWidth":2.6,"strokeJoin":"round"},
 "encoding":{
  "x":{"field":"d","type":"temporal"},
  "y":{"field":"c","type":"quantitative","scale":{"domain":[-5,20],"nice":false,"zero":false},
   "axis":{"title":"Percent Change from Year Ago , Percent","values":[-5,0,5,10,15,20],"labelExpr":"''+datum.value","domain":false,"ticks":false,"labelPadding":13,"labelFontSize":10,"labelColor":"#555555","gridColor":"#e8e8e8","titleFontSize":11,"titleFontWeight":"normal","titleColor":"#555555","titleX":-43,"titleY":139.5}}}},
{"data":{"name":"m"},"mark":{"type":"line","color":"#aa4643","strokeWidth":2.6,"strokeJoin":"round"},
 "encoding":{"x":{"field":"d","type":"temporal"},"y":{"field":"f","type":"quantitative"}}},
{"mark":{"type":"rule","color":"#000000","strokeWidth":2},"encoding":{"y":{"datum":0,"type":"quantitative"}}},
{"mark":{"type":"text","text":"FRED","align":"left","baseline":"alphabetic","fontSize":24,"fontWeight":"bold","color":"#1c1c1c"},
 "encoding":{"x":{"datum":{"year":1950,"month":6,"date":17,"utc":true},"type":"temporal"},"y":{"datum":22.1,"type":"quantitative"}}},
{"mark":{"type":"text","text":"Federal Funds rate vs. U.S. inflation, July 1954 to July 2022","align":"left","baseline":"alphabetic","fontSize":21,"fontWeight":"bold","color":"#000000"},
 "encoding":{"x":{"datum":{"year":1957,"month":11,"date":22,"utc":true},"type":"temporal"},"y":{"datum":21.57,"type":"quantitative"}}},
{"mark":{"type":"text","text":"Updated monthly","align":"right","baseline":"alphabetic","fontSize":12,"fontStyle":"italic","color":"#222222"},
 "encoding":{"x":{"datum":{"year":2022,"month":3,"date":1,"utc":true},"type":"temporal"},"y":{"datum":18.75,"type":"quantitative"}}},
{"mark":{"type":"text","text":["Effective Federal","Funds rate"],"align":"left","baseline":"alphabetic","fontSize":15,"fontWeight":"bold","lineHeight":18.6,"color":"#aa4643"},
 "encoding":{"x":{"datum":{"year":1982,"month":3,"date":30,"utc":true},"type":"temporal"},"y":{"datum":17.7,"type":"quantitative"}}},
{"mark":{"type":"text","text":"CPI-U","align":"left","baseline":"alphabetic","fontSize":15,"fontWeight":"bold","color":"#4572a7"},
 "encoding":{"x":{"datum":{"year":1982,"month":2,"date":24,"utc":true},"type":"temporal"},"y":{"datum":0.8,"type":"quantitative"}}},
{"mark":{"type":"text","text":"Shaded areas indicate U.S. recessions.","align":"left","baseline":"alphabetic","fontSize":12.5,"color":"#4a6fa0"},
 "encoding":{"x":{"datum":{"year":1951,"month":11,"date":25,"utc":true},"type":"temporal"},"y":{"datum":-9.3,"type":"quantitative"}}},
{"mark":{"type":"text","text":"Sources: BLS; Board of Governors","align":"left","baseline":"alphabetic","fontSize":12.5,"color":"#666666"},
 "encoding":{"x":{"datum":{"year":1979,"month":5,"date":28,"utc":true},"type":"temporal"},"y":{"datum":-9.3,"type":"quantitative"}}},
{"mark":{"type":"text","text":"fred.stlouisfed.org","align":"right","baseline":"alphabetic","fontSize":12.5,"color":"#666666"},
 "encoding":{"x":{"datum":{"year":2020,"month":8,"date":15,"utc":true},"type":"temporal"},"y":{"datum":-9.3,"type":"quantitative"}}}
]
}
